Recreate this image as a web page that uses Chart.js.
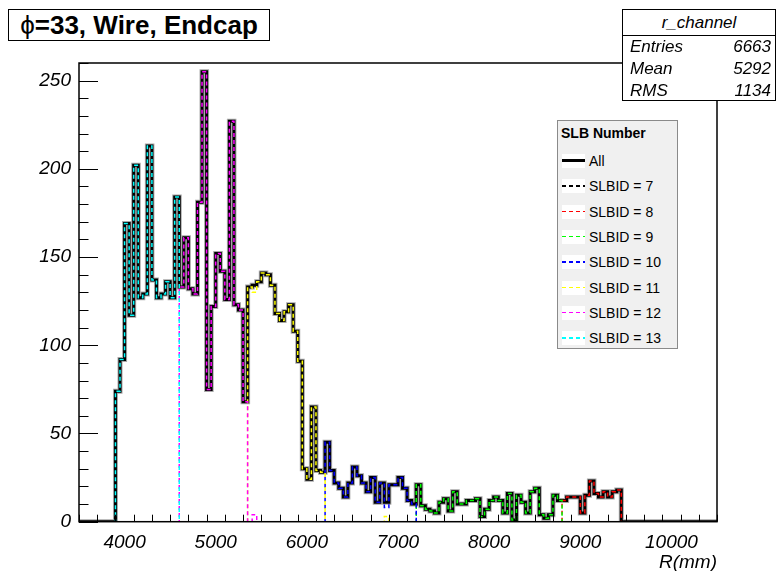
<!DOCTYPE html>
<html>
<head>
<meta charset="utf-8">
<script src="https://cdn.jsdelivr.net/npm/chart.js@4.4.1/dist/chart.umd.min.js"></script>
<style>
  html, body { margin: 0; padding: 0; background: #fff; }
  #wrap { position: relative; width: 782px; height: 571px; font-family: 'Liberation Sans', Arial, sans-serif; color: #000; }
  #chart { position: absolute; left: 0; top: 0; }
  #title { position: absolute; left: 8px; top: 9px; width: 262px; height: 32px; border: 1px solid #000; box-sizing: border-box;
           background: #fff; font-weight: bold; font-size: 26px; line-height: 30px; text-align: center; white-space: nowrap; }
  #title .phi { font-weight: normal; }
  #stats { position: absolute; left: 622px; top: 9px; width: 154px; height: 92px; border: 1px solid #000; box-sizing: border-box;
           background: #fff; font-style: italic; font-size: 17px; }
  #stats .head { text-align: center; height: 25px; line-height: 25px; border-bottom: 1px solid #000; }
  #stats .row { position: relative; height: 22px; line-height: 22px; padding: 0 4px 0 7px; }
  #stats .row span:last-child { position: absolute; right: 4px; }
  #legend { position: absolute; left: 557px; top: 120px; width: 121px; height: 229px; box-sizing: border-box;
            background: #f0f0f0; border: 1px solid #8a8a8a; font-size: 14px; }
  #legend .lhead { position: absolute; left: 3px; top: 4px; font-weight: bold; }
  #legend .item { position: absolute; left: 4px; height: 16px; line-height: 16px; white-space: nowrap; }
  #legend .sample { position: absolute; left: 0; top: 1px; width: 23px; height: 14px; background: #fff; }
  #legend .sample i { position: absolute; left: 0; width: 23px; }
  #legend .label { position: absolute; left: 27px; top: 0; }
</style>
</head>
<body>
<div id="wrap">
  <canvas id="chart" width="782" height="571"></canvas>
  <div id="title"><span class="phi">ϕ</span>=33, Wire, Endcap</div>
  <div id="stats"></div>
  <div id="legend"></div>
</div>
<script>
// Histogramme r_channel : 50 mm par bin
const binWidth = 50;
const xTickLabels = [4000, 5000, 6000, 7000, 8000, 9000, 10000];
const yTickLabels = [0, 50, 100, 150, 200, 250];

// Tous les SLB (premier bin : 3900 mm)
const allStart = 3900;
const allCounts = [
  74, 92, 169, 117, 202, 127, 129, 213, 137, 127, 129, 136, 127, 184,
  133, 161, 132, 129, 181, 255, 75, 122, 152, 142, 126, 227, 123, 120, 68,
  133, 134, 136, 141, 140, 134, 118, 114, 119, 123, 108, 91, 30, 24, 65, 29, 28,
  45, 29, 22, 19, 14, 22, 31, 26, 22, 17, 25, 11, 22, 11, 21, 21, 25, 19, 12, 10,
  21, 9, 7, 6, 5, 11, 13, 6, 17, 10, 10, 12, 12, 13, 3, 7, 12, 14, 12, 5, 16, 1,
  15, 11, 5, 17, 19, 4, 2, 4, 15, 12,
  12, 14, 14, 14, 5, 15, 23, 16, 14, 17, 14, 17, 18
];

// Par SLBID
const slb7Start = 3900;
const slb7Counts = [];
const slb8Start = 8800;
const slb8Counts = [12, 14, 14, 14, 5, 15, 23, 16, 14, 17, 14, 17, 18];
const slb9Start = 7200;
const slb9Counts = [21, 9, 7, 6, 5, 11, 13, 6, 17, 10, 10, 12, 12, 13, 3, 7, 12, 14, 12, 5, 16, 1,
                    15, 11, 5, 17, 19, 4, 2, 4, 15, 12];
const slb10Start = 6200;
const slb10Counts = [45, 29, 22, 19, 14, 22, 31, 26, 22, 17, 25, 11, 22, 8, 21, 21, 25, 19, 12, 10];
const slb11Start = 5350;
const slb11Counts = [133, 130, 136, 141, 140, 134, 118, 114, 119, 123, 108, 91, 30, 24, 65, 29, 28,
                     0, 0, 0, 0, 0, 0, 0, 0, 0, 0, 0, 0, 0, 3];
const slb12Start = 4600;
const slb12Counts = [133, 161, 132, 129, 181, 255, 75, 122, 152, 142, 126, 227, 123, 120, 68, 0, 4];
const slb13Start = 3900;
const slb13Counts = [74, 92, 169, 117, 202, 127, 129, 213, 137, 127, 129, 136, 127, 184];

const stats = [['Entries', '6663'], ['Mean', '5292'], ['RMS', '1134']];

const xMin = 3500, xMax = 10500, yMax = 260;
const FONT = "'Liberation Sans', Arial, sans-serif";

// points "en escalier" sur tout l'axe (bord gauche de chaque bin)
function histPoints(start, counts) {
  const pts = [];
  let last = 0;
  for (let e = xMin; e < xMax; e += binWidth) {
    const i = Math.round((e - start) / binWidth);
    last = (i >= 0 && i < counts.length) ? counts[i] : 0;
    pts.push({ x: e, y: last });
  }
  pts.push({ x: xMax, y: last });
  return pts;
}

const slbs = [
  { label: 'SLBID = 7', start: slb7Start, counts: slb7Counts, color: '#000000' },
  { label: 'SLBID = 8', start: slb8Start, counts: slb8Counts, color: '#ff0000' },
  { label: 'SLBID = 9', start: slb9Start, counts: slb9Counts, color: '#00ff00' },
  { label: 'SLBID = 10', start: slb10Start, counts: slb10Counts, color: '#0000ff' },
  { label: 'SLBID = 11', start: slb11Start, counts: slb11Counts, color: '#ffff00' },
  { label: 'SLBID = 12', start: slb12Start, counts: slb12Counts, color: '#ff00ff' },
  { label: 'SLBID = 13', start: slb13Start, counts: slb13Counts, color: '#00ffff' }
];

const datasets = [
  { label: '_halo', data: histPoints(allStart, allCounts), borderColor: '#a8a8a8', borderWidth: 5, order: 20 },
  { label: 'All', data: histPoints(allStart, allCounts), borderColor: '#000', borderWidth: 3, order: 19 }
];
slbs.forEach((s, k) => {
  datasets.push({ label: s.label, data: histPoints(s.start, s.counts), borderColor: s.color,
                  borderWidth: 1.5, borderDash: [4, 3], order: 10 - k });
});
datasets.forEach(d => Object.assign(d, { stepped: 'before', pointRadius: 0, fill: false, borderJoinStyle: 'miter' }));

// cadre + graduations façon ROOT
const framePlugin = {
  id: 'frame',
  afterDatasetsDraw(chart) {
    const { ctx, chartArea: a, scales: { x, y } } = chart;
    ctx.save();
    ctx.strokeStyle = '#000';
    ctx.lineWidth = 1;
    ctx.beginPath();
    for (let v = 0; v <= yMax; v += 10) {
      const py = Math.round(y.getPixelForValue(v)) + 0.5;
      const len = v % 50 === 0 ? 19 : 9.5;
      ctx.moveTo(a.left, py); ctx.lineTo(a.left + len, py);
    }
    for (let v = xMin; v <= xMax; v += 200) {
      const px = Math.round(x.getPixelForValue(v)) + 0.5;
      const len = v % 1000 === 0 ? 14 : 7;
      ctx.moveTo(px, a.bottom); ctx.lineTo(px, a.bottom - len);
    }
    ctx.stroke();
    ctx.lineWidth = 1.5;
    ctx.strokeRect(a.left, a.top, a.right - a.left, a.bottom - a.top);
    ctx.restore();
  }
};

const tickFont = { family: FONT, size: 19, style: 'italic' };

new Chart(document.getElementById('chart'), {
  type: 'line',
  data: { datasets },
  options: {
    responsive: false,
    animation: false,
    devicePixelRatio: 1,
    layout: { padding: { left: 0, top: 63, right: 65, bottom: 0 } },
    plugins: { legend: { display: false }, tooltip: { enabled: false } },
    scales: {
      x: {
        type: 'linear', min: xMin, max: xMax,
        afterBuildTicks: s => { s.ticks = xTickLabels.map(v => ({ value: v })); },
        afterFit: s => { s.height = 49.3; },
        ticks: { font: tickFont, color: '#000', padding: 10, maxRotation: 0, autoSkip: false, callback: v => String(v) },
        grid: { display: false, drawTicks: false },
        border: { display: false },
        title: { display: true, text: 'R(mm)', align: 'end', color: '#000', font: tickFont, padding: { top: 0, bottom: -3 } }
      },
      y: {
        min: 0, max: yMax,
        afterBuildTicks: s => { s.ticks = yTickLabels.map(v => ({ value: v })); },
        afterFit: s => { s.width = 79; },
        ticks: { font: tickFont, color: '#000', padding: 8, callback: v => String(v) },
        grid: { display: false, drawTicks: false },
        border: { display: false }
      }
    }
  },
  plugins: [framePlugin]
});

// boîte de statistiques
const statsBox = document.getElementById('stats');
statsBox.innerHTML = '<div class="head">r_channel</div>' +
  stats.map(r => `<div class="row"><span>${r[0]}</span><span>${r[1]}</span></div>`).join('');

// légende
const legend = document.getElementById('legend');
let html = '<div class="lhead">SLB Number</div>';
const entries = [{ label: 'All', color: '#000', solid: true }].concat(slbs);
entries.forEach((e, i) => {
  const top = 32 + i * 25.3;
  const line = e.solid
    ? `<i style="top:5px;height:3px;background:${e.color}"></i>`
    : `<i style="top:6px;height:1.5px;background:repeating-linear-gradient(to right, ${e.color} 0 4px, transparent 4px 7px)"></i>`;
  html += `<div class="item" style="top:${top}px"><span class="sample">${line}</span><span class="label">${e.label}</span></div>`;
});
legend.innerHTML = html;
</script>
</body>
</html>
